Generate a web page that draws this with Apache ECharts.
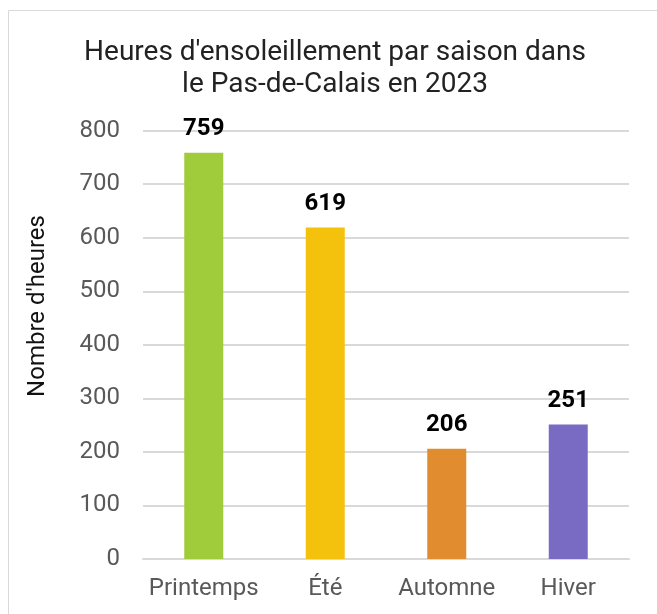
<!DOCTYPE html>
<html><head><meta charset="utf-8">
<script src="https://cdn.jsdelivr.net/npm/echarts@6/dist/echarts.min.js"></script>
<style>html,body{margin:0;padding:0;background:#fff}#c{width:657px;height:614px}</style>
</head><body><div id="c"></div>
<script>
const categories = ['Printemps', 'Été', 'Automne', 'Hiver'];
const hours = [759, 619, 206, 251];
const barColors = ['#A0CB3A', '#F4C20D', '#E08C2F', '#796BC4'];
const yTicks = [0, 100, 200, 300, 400, 500, 600, 700, 800];

const chart = echarts.init(document.getElementById('c'));
chart.setOption({
  animation: false,
  backgroundColor: '#fff',
  title: {
    text: "Heures d'ensoleillement par saison dans\nle Pas-de-Calais en 2023",
    left: 330, top: 32, textAlign: 'center',
    textStyle: { fontFamily: 'Roboto', fontSize: 28, fontWeight: 'normal', color: '#222', lineHeight: 32 }
  },
  graphic: [
    { type: 'rect', shape: { x: 8.5, y: 10.5, width: 700, height: 700 }, style: { fill: 'none', stroke: '#d9d9d9', lineWidth: 1 }, silent: true },
    { type: 'text', x: 38, y: 306, rotation: Math.PI / 2, style: { text: "Nombre d'heures", font: '24px Roboto', fill: '#111', textAlign: 'center', textVerticalAlign: 'middle' } }
  ],
  grid: { left: 143, right: 28, top: 130.7, bottom: 55, containLabel: false },
  xAxis: {
    type: 'category', data: categories,
    axisLine: { lineStyle: { color: '#d9d9d9', width: 2 } },
    axisTick: { show: false },
    axisLabel: { interval: 0, fontFamily: 'Roboto', fontSize: 24, color: '#595959', margin: 18 }
  },
  yAxis: {
    type: 'value', min: yTicks[0], max: yTicks[yTicks.length - 1], interval: 100,
    axisLine: { show: false }, axisTick: { show: false },
    splitLine: { lineStyle: { color: '#d9d9d9', width: 2 } },
    axisLabel: { fontFamily: 'Roboto', fontSize: 24, color: '#595959', margin: 23 }
  },
  series: [{
    type: 'bar', barWidth: 39,
    data: hours.map((v, i) => ({ value: v, itemStyle: { color: barColors[i] } })),
    label: { show: true, position: 'top', distance: 12, fontFamily: 'Roboto', fontSize: 24, fontWeight: 'bold', color: '#000' }
  }]
});
</script></body></html>
